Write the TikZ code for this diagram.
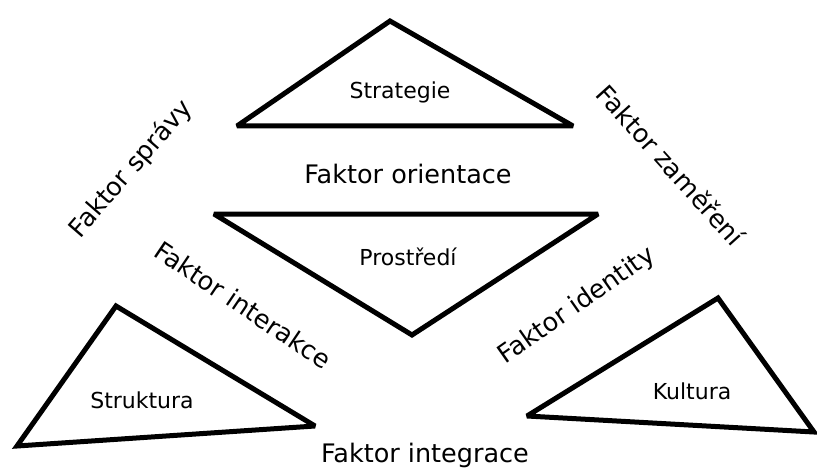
\documentclass[tikz,border=0pt]{standalone}
\usepackage{fontspec}
\setmainfont{DejaVu Sans}
\usepackage{tikz}

\begin{document}
\begin{tikzpicture}[x=1pt,y=-1pt,line width=5pt]
    \tikzstyle{tri}=[draw=black, line join=miter, miter limit=3]
    \tikzstyle{inner}=[text=black, font=\fontsize{22}{26}\selectfont]
    \tikzstyle{factor}=[text=black, font=\fontsize{25.5}{30}\selectfont, inner sep=0pt]

    \useasboundingbox (0,0) rectangle (817,468);

    % corners of the four triangles
    \coordinate (st1) at (390,21);  \coordinate (st2) at (237,126); \coordinate (st3) at (573,126);
    \coordinate (pr1) at (214,214); \coordinate (pr2) at (598,214); \coordinate (pr3) at (412,335);
    \coordinate (sk1) at (116,306); \coordinate (sk2) at (17,446);  \coordinate (sk3) at (315,426);
    \coordinate (ku1) at (718,298); \coordinate (ku2) at (527,416); \coordinate (ku3) at (814,432);

    \draw[tri] (st1) -- (st2) -- (st3) -- cycle;
    \draw[tri] (pr1) -- (pr2) -- (pr3) -- cycle;
    \draw[tri] (sk1) -- (sk2) -- (sk3) -- cycle;
    \draw[tri] (ku1) -- (ku2) -- (ku3) -- cycle;

    \node[inner] (strategie) at (400,92)  {Strategie};
    \node[inner] (prostredi) at (408,257) {Prostředí};
    \node[inner] (struktura) at (142,400) {Struktura};
    \node[inner] (kultura)   at (692,391) {Kultura};

    \node[factor] (orientace) at (408,174) {Faktor orientace};
    \node[factor] (integrace) at (425,455) {Faktor integrace};
    \node[factor, rotate=49]  (spravy)    at (131,169) {Faktor správy};
    \node[factor, rotate=-48] (zamereni)  at (671,165) {Faktor zaměření};
    \node[factor, rotate=-34] (interakce) at (243,305) {Faktor interakce};
    \node[factor, rotate=35]  (identita)  at (577,306) {Faktor identity};
\end{tikzpicture}
\end{document}
